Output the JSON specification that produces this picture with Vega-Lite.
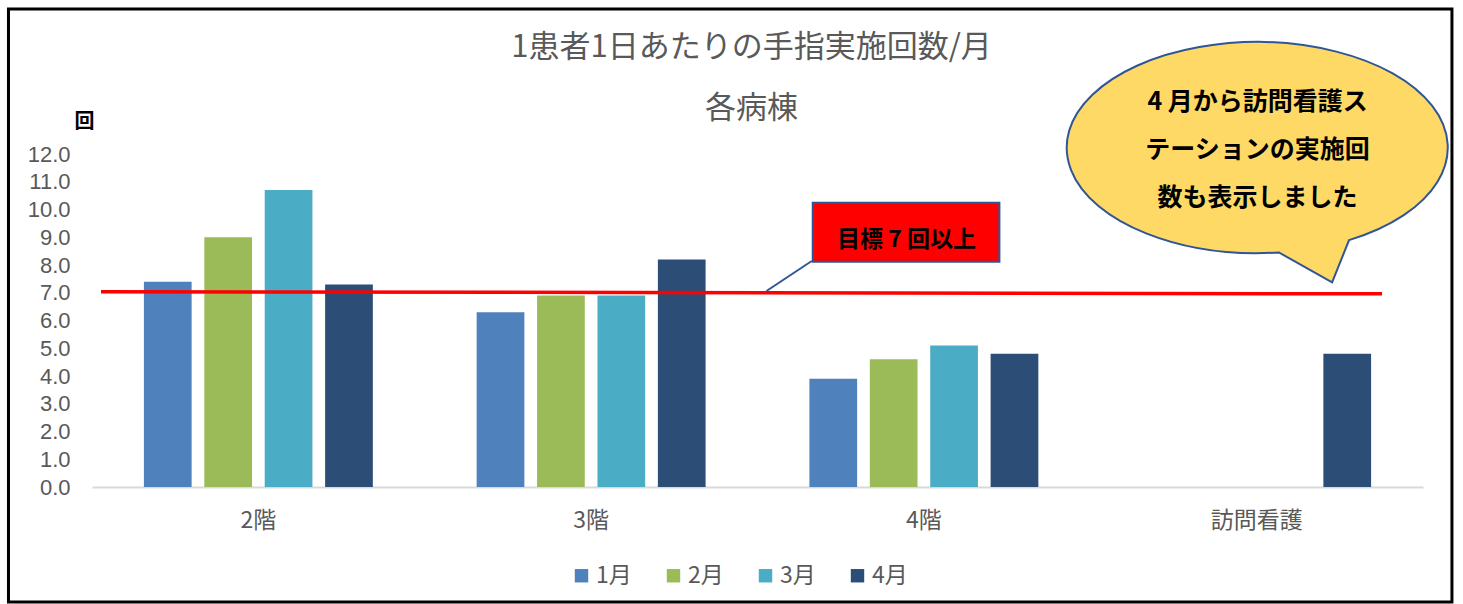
{
  "$schema": "https://vega.github.io/schema/vega-lite/v6.json",
  "width": 1331,
  "height": 333,
  "autosize": {"type": "none"},
  "padding": {"left": 92, "top": 154, "right": 40, "bottom": 117},
  "background": "white",
  "config": {
    "font": "Noto Sans CJK JP",
    "view": {"stroke": null}
  },
  "title": {
    "text": "1患者1日あたりの手指実施回数/月",
    "subtitle": "各病棟",
    "font": "Noto Sans CJK JP",
    "subtitleFont": "Noto Sans CJK JP",
    "fontSize": 31,
    "subtitleFontSize": 31,
    "fontWeight": "normal",
    "color": "#595959",
    "subtitleColor": "#595959",
    "anchor": "middle",
    "frame": "group",
    "offset": -117,
    "subtitlePadding": 30,
    "dx": -6
  },
  "layer": [
    {
      "data": {"values": [{"x": -0.251, "x2": 4.087, "y": 17.225, "y2": -4.144}]},
      "mark": {"type": "rect", "fill": "transparent", "stroke": "#000000", "strokeWidth": 3},
      "encoding": {
        "x": {"field": "x", "type": "quantitative", "scale": {"domain": [0, 4], "nice": false, "zero": false}, "axis": null},
        "x2": {"field": "x2"},
        "y": {"field": "y", "type": "quantitative", "scale": {"domain": [0, 12], "nice": false}, "axis": null},
        "y2": {"field": "y2"}
      }
    },
    {
      "data": {"values": [
        {"ward": "2階", "month": "1月", "value": 7.4},
        {"ward": "2階", "month": "2月", "value": 9.0},
        {"ward": "2階", "month": "3月", "value": 10.7},
        {"ward": "2階", "month": "4月", "value": 7.3},
        {"ward": "3階", "month": "1月", "value": 6.3},
        {"ward": "3階", "month": "2月", "value": 6.9},
        {"ward": "3階", "month": "3月", "value": 6.9},
        {"ward": "3階", "month": "4月", "value": 8.2},
        {"ward": "4階", "month": "1月", "value": 3.9},
        {"ward": "4階", "month": "2月", "value": 4.6},
        {"ward": "4階", "month": "3月", "value": 5.1},
        {"ward": "4階", "month": "4月", "value": 4.8},
        {"ward": "訪問看護", "month": "4月", "value": 4.8}
      ]},
      "mark": {"type": "bar"},
      "encoding": {
        "x": {
          "field": "ward", "type": "nominal",
          "sort": ["2階", "3階", "4階", "訪問看護"],
          "scale": {"paddingInner": 0.312, "paddingOuter": 0.156},
          "axis": {
            "title": null, "labelAngle": 0, "labelFontSize": 23, "labelColor": "#595959",
            "labelPadding": 22, "ticks": false, "domainColor": "#D9D9D9", "domainWidth": 2
          }
        },
        "xOffset": {
          "field": "month", "type": "nominal",
          "sort": ["1月", "2月", "3月", "4月"],
          "scale": {"paddingInner": 0.21, "paddingOuter": 0}
        },
        "y": {
          "field": "value", "type": "quantitative",
          "scale": {"domain": [0, 12], "nice": false},
          "axis": {
            "title": "回", "titleAngle": 0, "titleFontSize": 20, "titleFontWeight": "bold",
            "titleColor": "#000000", "titleX": -8, "titleY": -33, "titleAlign": "center", "titleBaseline": "middle",
            "values": [0, 1, 2, 3, 4, 5, 6, 7, 8, 9, 10, 11, 12], "format": ".1f",
            "labelFont": "Liberation Sans", "labelFontSize": 22, "labelColor": "#595959", "labelPadding": 22,
            "ticks": false, "domain": false, "gridColor": "#D9D9D9", "gridWidth": 2
          }
        },
        "color": {
          "field": "month", "type": "nominal",
          "sort": ["1月", "2月", "3月", "4月"],
          "scale": {"domain": ["1月", "2月", "3月", "4月"], "range": ["#4F81BD", "#9BBB59", "#4BACC6", "#2C4D75"]},
          "legend": {
            "title": null, "orient": "none", "direction": "horizontal",
            "legendX": 478, "legendY": 410,
            "symbolType": "square", "symbolSize": 180, "symbolStrokeWidth": 0,
            "labelFontSize": 23, "labelColor": "#595959", "labelOffset": 3,
            "columnPadding": 30
          }
        }
      }
    },
    {
      "data": {"values": [{"x": 0.027, "x2": 3.877, "y": 7.04, "y2": 6.96}]},
      "mark": {"type": "rule", "color": "#FF0000", "strokeWidth": 3.5},
      "encoding": {
        "x": {"field": "x", "type": "quantitative", "scale": {"domain": [0, 4], "nice": false, "zero": false}, "axis": null},
        "x2": {"field": "x2"},
        "y": {"field": "y", "type": "quantitative", "scale": {"domain": [0, 12], "nice": false}, "axis": null},
        "y2": {"field": "y2"}
      }
    },
    {
      "data": {"values": [{"x": 2.163, "x2": 2.027, "y": 8.144, "y2": 7.063}]},
      "mark": {"type": "rule", "color": "#2F5597", "strokeWidth": 2},
      "encoding": {
        "x": {"field": "x", "type": "quantitative", "scale": {"domain": [0, 4], "nice": false, "zero": false}, "axis": null},
        "x2": {"field": "x2"},
        "y": {"field": "y", "type": "quantitative", "scale": {"domain": [0, 12], "nice": false}, "axis": null},
        "y2": {"field": "y2"}
      }
    },
    {
      "data": {"values": [{"x": 2.166, "x2": 2.727, "y": 10.245, "y2": 8.119}]},
      "mark": {"type": "rect", "fill": "#FF0000", "stroke": "#2F5597", "strokeWidth": 2},
      "encoding": {
        "x": {"field": "x", "type": "quantitative", "scale": {"domain": [0, 4], "nice": false, "zero": false}, "axis": null},
        "x2": {"field": "x2"},
        "y": {"field": "y", "type": "quantitative", "scale": {"domain": [0, 12], "nice": false}, "axis": null},
        "y2": {"field": "y2"}
      }
    },
    {
      "data": {"values": [{"x": 2.448, "y": 8.9, "label": "目標 7 回以上"}]},
      "mark": {"type": "text", "fontSize": 23, "fontWeight": "bold", "color": "#000000", "align": "center", "baseline": "middle"},
      "encoding": {
        "x": {"field": "x", "type": "quantitative", "scale": {"domain": [0, 4], "nice": false, "zero": false}, "axis": null},
        "y": {"field": "y", "type": "quantitative", "scale": {"domain": [0, 12], "nice": false}, "axis": null},
        "text": {"field": "label"}
      }
    },
    {
      "data": {"values": [{"x": 3.503, "y": 12.234}]},
      "mark": {
        "type": "point", "filled": true, "fill": "#FFD966", "fillOpacity": 1, "opacity": 1,
        "stroke": "#2F5597", "strokeWidth": 2, "size": 145161,
        "shape": "M 0.48 0.486 A 1 0.554 0 1 0 0.112 0.551 L 0.391 0.708 Z"
      },
      "encoding": {
        "x": {"field": "x", "type": "quantitative", "scale": {"domain": [0, 4], "nice": false, "zero": false}, "axis": null},
        "y": {"field": "y", "type": "quantitative", "scale": {"domain": [0, 12], "nice": false}, "axis": null}
      }
    },
    {
      "data": {"values": [{"x": 3.503, "y": 13.87, "label": "4 月から訪問看護ス\nテーションの実施回\n数も表示しました"}]},
      "mark": {"type": "text", "fontSize": 25, "fontWeight": "bold", "color": "#000000", "align": "center", "baseline": "middle", "lineBreak": "\n", "lineHeight": 48},
      "encoding": {
        "x": {"field": "x", "type": "quantitative", "scale": {"domain": [0, 4], "nice": false, "zero": false}, "axis": null},
        "y": {"field": "y", "type": "quantitative", "scale": {"domain": [0, 12], "nice": false}, "axis": null},
        "text": {"field": "label"}
      }
    }
  ],
  "resolve": {"scale": {"x": "independent", "y": "independent", "color": "independent"}}
}
